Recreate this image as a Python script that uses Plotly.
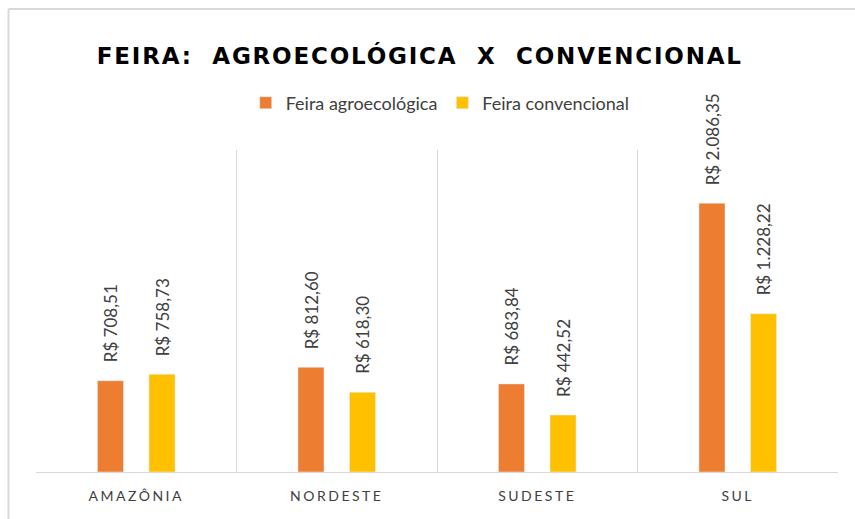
import plotly.graph_objects as go

# dados
regioes = ["AMAZÔNIA", "NORDESTE", "SUDESTE", "SUL"]
agroecologica = [708.51, 812.60, 683.84, 2086.35]
convencional = [758.73, 618.30, 442.52, 1228.22]
series_nomes = ["Feira agroecológica", "Feira convencional"]
titulo = "FEIRA:\u00a0\u00a0AGROECOLÓGICA\u00a0\u00a0X\u00a0\u00a0CONVENCIONAL"


def brl(v):
    # formato brasileiro: R$ 1.228,22
    s = f"{v:,.2f}".replace(",", "#").replace(".", ",").replace("#", ".")
    return "R$ " + s


laranja = "#ED7D31"
amarelo = "#FFC000"
cinza = "#D9D9D9"

fig = go.Figure()
fig.add_trace(go.Bar(x=regioes, y=agroecologica, name=series_nomes[0],
                     marker_color=laranja))
fig.add_trace(go.Bar(x=regioes, y=convencional, name=series_nomes[1],
                     marker_color=amarelo))

# rotulos rotacionados acima das barras
desloc = 25.75
for serie, dx in ((agroecologica, -desloc), (convencional, desloc)):
    for r, v in zip(regioes, serie):
        fig.add_annotation(x=r, y=v, text=brl(v), textangle=-90,
                           showarrow=False, xshift=dx, yshift=16,
                           yanchor="bottom", xanchor="center",
                           font=dict(family="Lato", size=17, color="#404040"))

# moldura (esquerda e topo)
fig.add_shape(type="line", xref="paper", yref="paper",
              x0=-0.0343, x1=-0.0343, y0=1.438, y1=-0.2,
              line=dict(color=cinza, width=2))
fig.add_shape(type="line", xref="paper", yref="paper",
              x0=-0.0343, x1=1.03, y0=1.438, y1=1.438,
              line=dict(color=cinza, width=2))

fig.update_layout(
    width=855, height=519,
    margin=dict(l=36, r=17, t=150, b=47),
    paper_bgcolor="white", plot_bgcolor="white",
    barmode="group", bargap=0.486, bargroupgap=0.495,
    title=dict(text=titulo, x=0.491, xanchor="center", y=0.893, yanchor="middle",
               xref="container", yref="container",
               font=dict(family="DejaVu Sans", size=23, color="#000000", weight="bold")),
    legend=dict(orientation="h", x=0.504, xanchor="center", y=1.146, yanchor="middle",
                font=dict(family="Lato", size=18, color="#404040"),
                itemwidth=30, traceorder="normal"),
    xaxis=dict(tickson="boundaries", showgrid=True, gridcolor=cinza,
               showline=True, linecolor=cinza, ticks="", ticklabelstandoff=11,
               tickfont=dict(family="Lato", size=14, color="#404040")),
    yaxis=dict(range=[0, 2500], visible=False, showgrid=False),
)

# sem margem do body; espacamento entre letras como no original
js = """
function ajustar(){
  document.body.style.margin='0';
  document.querySelectorAll('.gtitle').forEach(function(e){e.style.letterSpacing='1.8px';});
  document.querySelectorAll('.xtick text').forEach(function(e){e.style.letterSpacing='2.5px';});
}
ajustar();
setTimeout(ajustar, 0);
setTimeout(ajustar, 300);
"""

fig.write_html("out.html", post_script=js, config={"displayModeBar": False})
